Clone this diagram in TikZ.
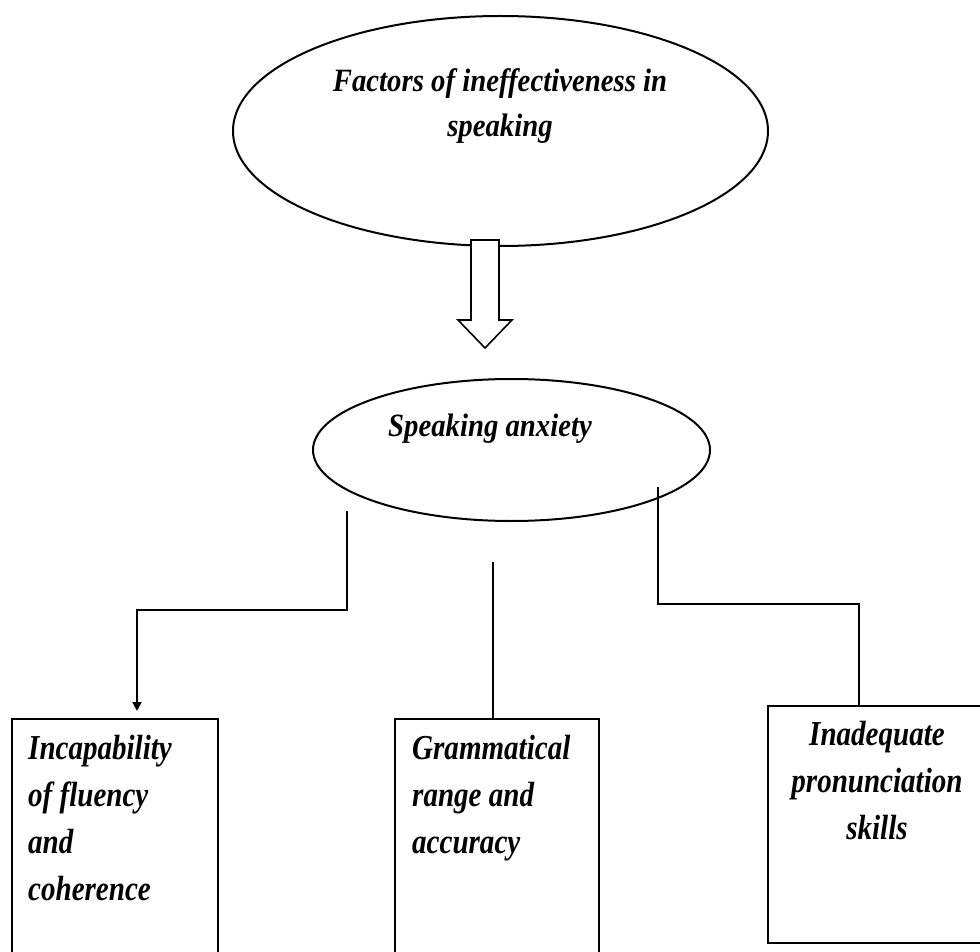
\documentclass[tikz,border=0pt]{standalone}
\usepackage{fontspec}
\setmainfont{Liberation Serif}
\newfontfamily\condfont[FakeStretch=0.83]{Liberation Serif}
\newfontfamily\titlefont[FakeStretch=0.885]{Liberation Serif}
\usetikzlibrary{shapes.geometric,arrows.meta,calc}
\begin{document}
\begin{tikzpicture}[x=1pt,y=1pt,
  oval/.style={draw, ellipse, inner sep=0pt, line width=2pt},
  card/.style={draw, rectangle, anchor=north west, inner sep=0pt, line width=2pt},
  ttl/.style={font=\titlefont\fontsize{32.5}{45}\selectfont\bfseries\itshape, align=center, inner sep=0pt, anchor=base},
  cardtext/.style={font=\condfont\fontsize{35}{47}\selectfont\bfseries\itshape, inner sep=0pt},
  link/.style={line width=2pt},
  blockarrow/.style={draw, fill=white, line width=1.6pt, line join=miter}]

\useasboundingbox (0,0) rectangle (980,-952);
\clip (0,0) rectangle (980,-952);

% top ellipse
\node[oval, minimum width=535pt, minimum height=230pt] (top) at (500.5,-131) {};
% base anchor of a multi-line node = baseline of its last line
\node[ttl] (toptext) at (500,-137) {Factors of ineffectiveness in\\speaking};

% block arrow
\coordinate (a0) at (485,-240);
\coordinate (a1) at (485,-348);
\draw[blockarrow] ($(a0)+(-14,0)$) -- ($(a0)+(14,0)$) -- ($(a0)+(14,-80)$) -- ($(a0)+(27,-80)$)
  -- (a1) -- ($(a0)+(-27,-80)$) -- ($(a0)+(-14,-80)$) -- cycle;

% second ellipse
\node[oval, minimum width=397pt, minimum height=142pt] (anx) at (511.5,-450) {};
\node[ttl] (anxtext) at (490,-436) {Speaking anxiety};

% boxes
\node[card, minimum width=206pt, minimum height=260pt] (lbox) at (11,-718) {};
\node[card, minimum width=204pt, minimum height=260pt] (mbox) at (394,-718) {};
\node[card, minimum width=225pt, minimum height=237pt] (rbox) at (767,-705) {};

\node[cardtext, anchor=base west, align=left] (ltext) at (28,-900) {Incapability\\of fluency\\and\\coherence};
\node[cardtext, anchor=base west, align=left] (mtext) at (412,-853) {Grammatical\\range and\\accuracy};
\node[cardtext, anchor=base, align=center] (rtext) at (877,-839) {Inadequate\\pronunciation\\skills};

% connectors
\coordinate (l0) at (347,-511);
\coordinate (l1) at (137,-610);
\draw[link, -{Triangle[length=9pt,width=9pt]}, shorten >=7pt] (l0) |- (l1) -- (l1 |- lbox.north);

\coordinate (m0) at (493,-562);
\draw[link, line width=1.3pt] (m0) -- (m0 |- mbox.north);

\coordinate (r0) at (658,-487);
\coordinate (r1) at (859,-604);
\draw[link] (r0) |- (r1) -- (r1 |- rbox.north);
\end{tikzpicture}
\end{document}
